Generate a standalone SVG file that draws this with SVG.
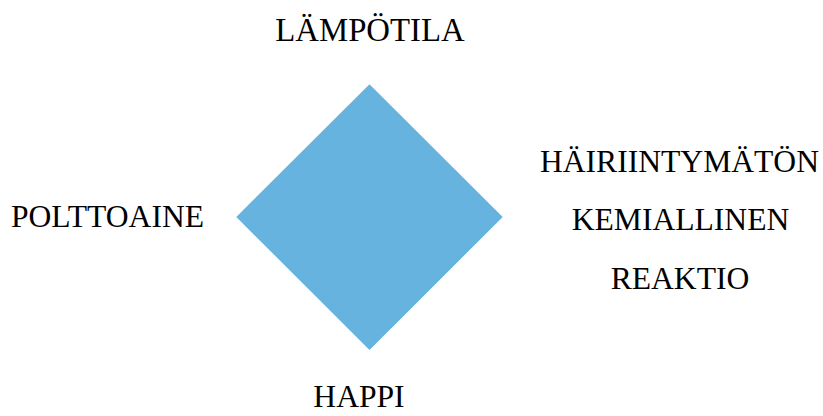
<svg xmlns="http://www.w3.org/2000/svg" width="823" height="416" viewBox="0 0 823 416">
<style>
.t{font-family:"Liberation Serif","Times New Roman",serif;font-size:31.6px;fill:#000;text-anchor:middle}
</style>
<rect width="823" height="416" fill="#fff"/>
<g id="diamond"><polygon points="369.5,84.3 502.7,217 369.5,350 236.3,217" fill="#65B3DE"/></g>
<g id="top"><text class="t" x="370" y="40.7" style="font-size:32.8px">LÄMPÖTILA</text></g>
<g id="left"><text class="t" x="107.5" y="226.7">POLTTOAINE</text></g>
<g id="right"><text class="t" x="679.5" y="171.7">HÄIRIINTYMÄTÖN</text><text class="t" x="680.5" y="230">KEMIALLINEN</text><text class="t" x="680" y="289.3">REAKTIO</text></g>
<g id="bottom"><text class="t" x="359" y="406.7">HAPPI</text></g>
<g id="connectors"></g>
</svg>
